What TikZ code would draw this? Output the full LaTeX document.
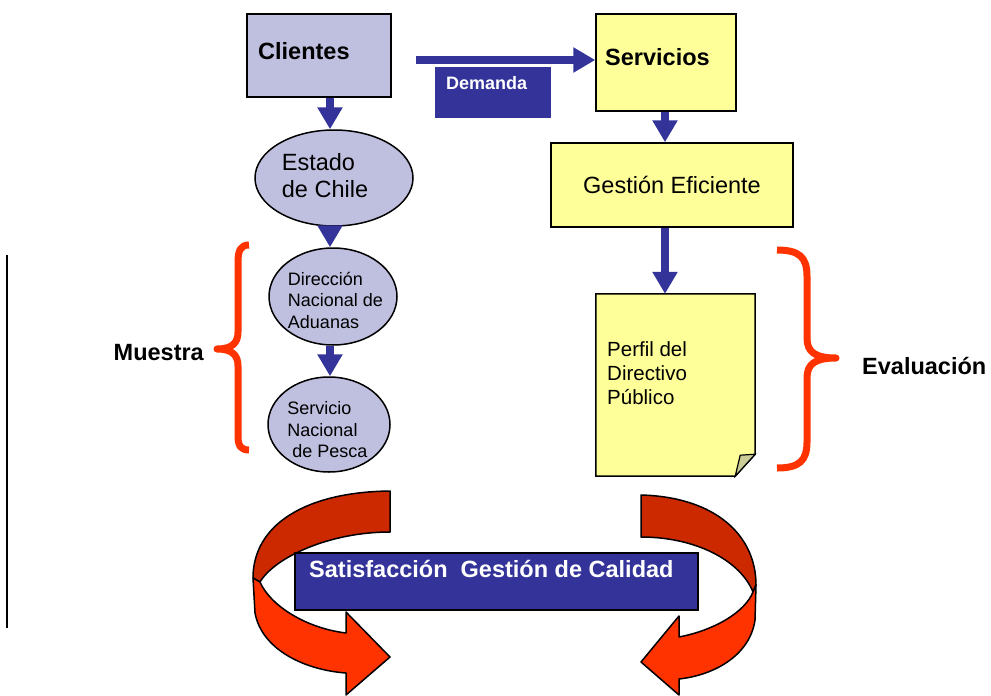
\documentclass[tikz,border=0pt]{standalone}
\usepackage{fontspec}
\setmainfont{Liberation Sans}
\usetikzlibrary{shapes.geometric,arrows.meta}
\definecolor{navy}{RGB}{51,51,153}
\definecolor{lavender}{RGB}{191,191,223}
\definecolor{paleyellow}{RGB}{255,255,153}
\definecolor{bracered}{RGB}{255,51,0}
\definecolor{ribbondark}{RGB}{204,41,0}
\definecolor{foldgray}{RGB}{204,204,153}
\newcommand\bigtxt{\fontsize{23.5pt}{27pt}\selectfont}
\newcommand\midtxt{\fontsize{20.5pt}{24pt}\selectfont}
\newcommand\smalltxt{\fontsize{18pt}{21.5pt}\selectfont}

\begin{document}
\begin{tikzpicture}[
  x=1pt, y=-1pt,
  every node/.style={inner sep=0pt},
  box/.style={draw, line width=1.5pt, rectangle},
  oval/.style={draw, line width=1.5pt, ellipse, fill=lavender},
  blockarrow/.style={draw=navy, line width=7.5pt, -{Triangle[length=22pt,width=24pt]}},
  redbrace/.style={draw=bracered, line width=7pt, line join=round},
  ribbon/.style={draw, line width=1.5pt, line join=round}
]
  \useasboundingbox (0,0) rectangle (991,696);

  % left column
  \node[box, fill=lavender, minimum width=144pt, minimum height=83pt] (clientes) at (319,55.5) {};
  \node[anchor=base west, font=\bigtxt\bfseries] (clientes-t) at (258,59) {Clientes};
  \node[oval, minimum width=158pt, minimum height=96pt] (estado) at (334,178) {};
  \node[align=left, font=\bigtxt] (estado-t) at (325,175.5) {Estado\\de Chile};
  \node[oval, minimum width=128pt, minimum height=97pt] (direccion) at (333,296.5) {};
  \node[align=left, font=\smalltxt] (direccion-t) at (335.5,300) {Dirección\\Nacional de\\Aduanas};
  \node[oval, minimum width=122pt, minimum height=95pt] (servicio) at (329,424.5) {};
  \node[align=left, font=\smalltxt] (servicio-t) at (327.5,430) {Servicio\\Nacional\\\hspace*{5pt}de Pesca};

  % demand
  \node[fill=navy, minimum width=116pt, minimum height=51pt] (demanda) at (493,92.5) {};
  \node[anchor=base west, font=\smalltxt\bfseries, text=white] (demanda-t) at (446,89) {Demanda};

  % right column
  \node[box, fill=paleyellow, minimum width=140pt, minimum height=97pt] (servicios) at (666,62.5) {};
  \node[anchor=base west, font=\bigtxt\bfseries] (servicios-t) at (605,65) {Servicios};
  \node[box, fill=paleyellow, minimum width=242pt, minimum height=84pt, font=\bigtxt] (gestion) at (672,185) {Gestión Eficiente};
  \node[minimum width=159pt, minimum height=182pt] (perfil) at (675.5,385) {};
  \draw[line width=1.5pt, fill=paleyellow] (perfil.north west) -- (perfil.north east)
    -- ([yshift=22pt]perfil.south east) -- ([xshift=-20pt]perfil.south east) -- (perfil.south west) -- cycle;
  \draw[line width=1.2pt, fill=foldgray] ([yshift=22pt]perfil.south east)
    -- ([shift={(-15pt,21pt)}]perfil.south east) -- ([xshift=-20pt]perfil.south east) -- cycle;
  \node[anchor=west, align=left, font=\midtxt] (perfil-t) at (607,373.5) {Perfil del\\Directivo\\Público};

  % arrows
  \draw[blockarrow] ([shift={(24pt,-4.5pt)}]clientes.east) -- ([yshift=2.5pt]servicios.west);
  \draw[blockarrow] ([xshift=11pt]clientes.south) -- ([xshift=11pt]clientes.south |- estado.north);
  \draw[blockarrow] ([xshift=-4pt]estado.south) -- ([xshift=-4pt]estado.south |- direccion.north);
  \draw[blockarrow] ([xshift=-3pt]direccion.south) -- ([xshift=-3pt]direccion.south |- servicio.north);
  \draw[blockarrow] ([xshift=-1pt]servicios.south) -- ([xshift=-1pt]servicios.south |- gestion.north);
  \draw[blockarrow] ([xshift=-7pt]gestion.south) -- ([xshift=-7pt]gestion.south |- perfil.north);

  % braces
  \draw[line width=1.5pt] (7,255) -- (7,628);
  \draw[redbrace] (249,245) .. controls (241,245) and (238,250) .. (238,262) -- (238,332)
    .. controls (238,343) and (232,349) .. (217,349) .. controls (232,349) and (238,355) .. (238,366)
    -- (238,436) .. controls (238,446) and (241,450) .. (249,450);
  \node[anchor=base east, font=\bigtxt\bfseries] (muestra) at (204,360) {Muestra};
  \draw[redbrace] (777,250) .. controls (799,250) and (807,257) .. (807,276) -- (807,338)
    .. controls (807,352) and (815,358) .. (836,358) .. controls (815,358) and (807,364) .. (807,378)
    -- (807,442) .. controls (807,461) and (799,468) .. (777,468);
  \node[anchor=base west, font=\bigtxt\bfseries] (evaluacion) at (862,374) {Evaluación};

  % ribbons
  \draw[ribbon, fill=ribbondark] (390,491) .. controls (305,492) and (253,525) .. (253,578)
    -- (260,582) .. controls (275,557) and (330,532) .. (390,532) -- cycle;
  \draw[ribbon, fill=bracered] (253,578) -- (255,613) .. controls (262,650) and (305,670) .. (346,673)
    -- (346,695) -- (390,657) -- (346,612) -- (346,633) .. controls (305,628) and (270,605) .. (260,582) -- cycle;
  \draw[ribbon, fill=ribbondark] (641,495) .. controls (715,497) and (756,535) .. (756,585)
    -- (753,592) .. controls (740,560) and (695,537) .. (641,537) -- cycle;
  \draw[ribbon, fill=bracered] (756,585) -- (755,620) .. controls (750,655) and (715,675) .. (679,679)
    -- (679,695) -- (641,662) -- (679,616) -- (679,637) .. controls (715,630) and (745,612) .. (753,592) -- cycle;
  \node[fill=navy, draw, line width=1.5pt, minimum width=403pt, minimum height=57pt] (calidad) at (496.5,581.5) {};
  \node[anchor=base west, font=\bigtxt\bfseries, text=white] (calidad-t) at (309,577) {Satisfacción\ \ Gestión de Calidad};
\end{tikzpicture}
\end{document}
